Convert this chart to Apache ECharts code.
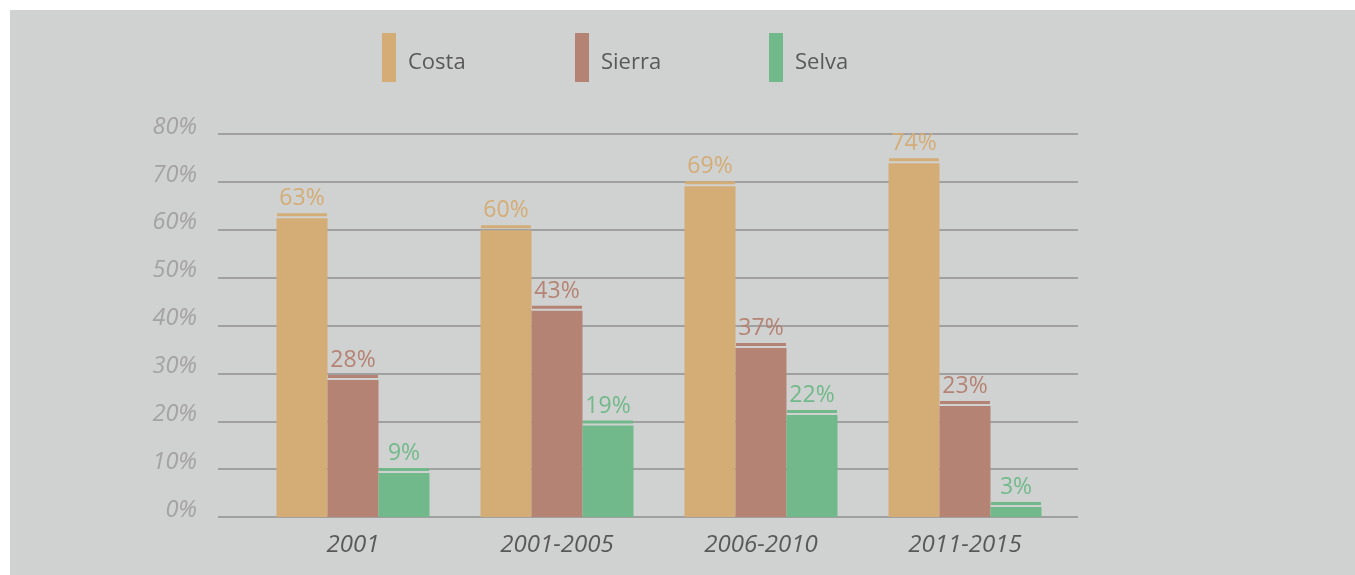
<!DOCTYPE html>
<html>
<head>
<meta charset="utf-8">
<title>Costa / Sierra / Selva</title>
<script src="https://cdn.jsdelivr.net/npm/echarts@6/dist/echarts.min.js"></script>
<style>
  html, body { margin: 0; padding: 0; background: #ffffff; }
  #chart { position: absolute; left: 10px; top: 10px; width: 1345px; height: 565px; background: #d0d2d1; }
</style>
</head>
<body>
<div id="chart"></div>
<script>
// data
var categories = ['2001', '2001-2005', '2006-2010', '2011-2015'];
var seriesNames = ['Costa', 'Sierra', 'Selva'];
// bar heights (measured)
var costa = [62.4, 59.9, 69.1, 73.9];
var sierra = [28.6, 43.1, 35.3, 23.2];
var selva = [9.2, 19.1, 21.3, 2.1];
// printed labels
var costaLabels = [63, 60, 69, 74];
var sierraLabels = [28, 43, 37, 23];
var selvaLabels = [9, 19, 22, 3];
var yTicks = [0, 10, 20, 30, 40, 50, 60, 70, 80];

var colors = ['#d3ac76', '#b58373', '#71b98a'];
var font = "'Open Sans', 'DejaVu Sans', sans-serif";

var myChart = echarts.init(document.getElementById('chart'));

var values = [costa, sierra, selva];
var labels = [costaLabels, sierraLabels, selvaLabels];

var series = [];
// bars
for (var i = 0; i < 3; i++) {
  (function (i) {
    series.push({
      name: seriesNames[i],
      type: 'bar',
      xAxisIndex: 1,
      yAxisIndex: 1,
      data: values[i],
      barWidth: 51,
      barGap: '0%',
      barCategoryGap: '25%',
      itemStyle: { color: colors[i] },
      label: {
        show: true,
        position: 'top',
        distance: 8,
        color: colors[i],
        fontFamily: font,
        fontSize: 23,
        formatter: function (p) { return labels[i][p.dataIndex] + '%'; }
      }
    });
  })(i);
}
// thin caps above each bar
for (var j = 0; j < 3; j++) {
  series.push({
    name: seriesNames[j] + ' cap',
    type: 'pictorialBar',
    xAxisIndex: 1,
    yAxisIndex: 1,
    data: values[j],
    barWidth: 51,
    barGap: '0%',
    barCategoryGap: '25%',
    symbol: 'rect',
    symbolSize: [50, 3],
    symbolPosition: 'end',
    symbolOffset: [0, -5],
    itemStyle: { color: colors[j] },
    silent: true,
    z: 3
  });
}

function legendAt(name, left) {
  return {
    data: [name],
    left: left,
    top: 18,
    icon: 'rect',
    itemWidth: 14,
    itemHeight: 49,
    formatter: '{t|{name}}',
    textStyle: {
      color: '#595959',
      fontFamily: font,
      fontSize: 22,
      padding: [0, 0, 0, 7],
      rich: {
        t: {
          color: '#595959',
          fontFamily: font,
          fontSize: 22,
          padding: [10, 0, 0, 0]
        }
      }
    }
  };
}

var option = {
  animation: false,
  legend: [legendAt('Costa', 367), legendAt('Sierra', 560), legendAt('Selva', 754)],
  grid: [
    // gridlines span wider than the bars
    { left: 208, right: 277, top: 124, bottom: 58 },
    { left: 241, right: 288, top: 124, bottom: 58 }
  ],
  xAxis: [
    { gridIndex: 0, type: 'value', min: 0, max: 1, show: false },
    {
      gridIndex: 1,
      type: 'category',
      data: categories,
      axisLine: { show: false },
      axisTick: { show: false },
      axisLabel: {
        color: '#595959',
        fontFamily: font,
        fontStyle: 'italic',
        fontSize: 24,
        margin: 16
      }
    }
  ],
  yAxis: [
    {
      gridIndex: 0,
      type: 'value',
      min: yTicks[0],
      max: yTicks[yTicks.length - 1],
      interval: 10,
      axisLine: { show: false },
      axisTick: { show: false },
      splitLine: { lineStyle: { color: '#a0a0a0', width: 2 } },
      axisLabel: {
        formatter: '{value}%',
        color: '#a3a3a3',
        fontFamily: font,
        fontStyle: 'italic',
        fontSize: 23.5,
        margin: 21,
        verticalAlign: 'bottom',
        lineHeight: 14
      }
    },
    { gridIndex: 1, type: 'value', min: 0, max: 80, show: false }
  ],
  series: series
};

myChart.setOption(option);
</script>
</body>
</html>
